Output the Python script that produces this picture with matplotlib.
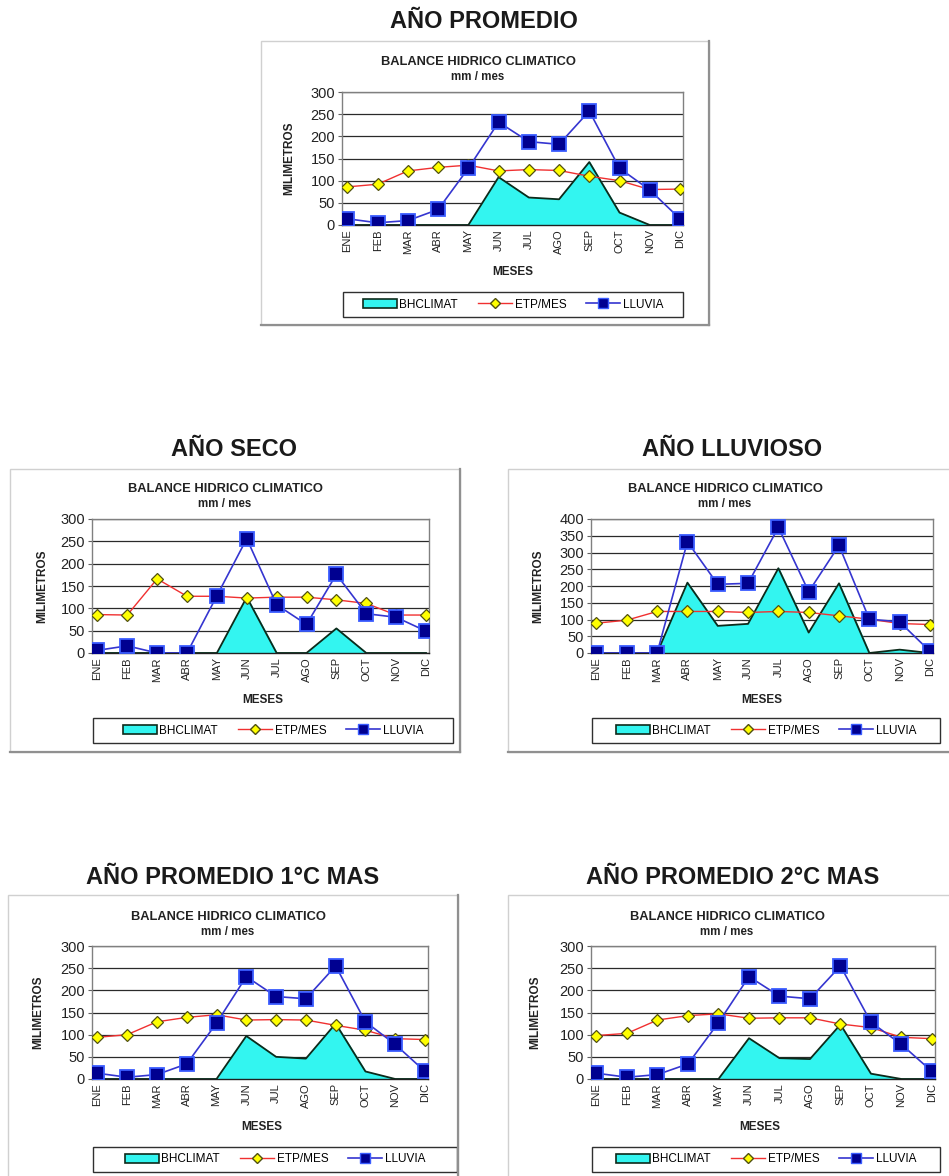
import matplotlib.pyplot as plt
from matplotlib.patches import Rectangle, Patch
from matplotlib.lines import Line2D

plt.rcParams['font.family'] = ['Liberation Sans', 'DejaVu Sans']

# ---- datos (mm / mes) ----
meses = ['ENE', 'FEB', 'MAR', 'ABR', 'MAY', 'JUN', 'JUL', 'AGO', 'SEP', 'OCT', 'NOV', 'DIC']

# año promedio
prom_bh = [0, 0, 0, 0, 0, 108, 62, 58, 142, 28, 0, 0]
prom_etp = [86, 92, 122, 130, 135, 122, 125, 123, 110, 100, 80, 81]
prom_lluvia = [14, 5, 10, 35, 128, 232, 188, 182, 257, 128, 79, 14]

# año seco
seco_bh = [0, 0, 0, 0, 0, 125, 0, 0, 55, 0, 0, 0]
seco_etp = [86, 85, 166, 127, 127, 123, 125, 125, 119, 111, 85, 85]
seco_lluvia = [6, 16, 0, 0, 128, 256, 108, 64, 176, 88, 80, 49]

# año lluvioso
lluv_bh = [0, 0, 0, 210, 81, 87, 253, 61, 208, 0, 10, 0]
lluv_etp = [89, 98, 124, 124, 124, 121, 124, 121, 111, 101, 88, 85]
lluv_lluvia = [0, 0, 0, 332, 205, 208, 375, 183, 321, 101, 93, 5]

# año promedio +1 °C
mas1_bh = [0, 0, 0, 0, 0, 97, 50, 46, 125, 17, 0, 0]
mas1_etp = [94, 100, 129, 139, 145, 133, 134, 133, 121, 110, 91, 89]
mas1_lluvia = [13, 4, 10, 34, 126, 231, 186, 181, 255, 129, 78, 17]

# año promedio +2 °C
mas2_bh = [0, 0, 0, 0, 0, 92, 47, 45, 123, 12, 0, 0]
mas2_etp = [98, 103, 133, 143, 147, 137, 138, 138, 124, 116, 94, 91]
mas2_lluvia = [13, 4, 10, 34, 127, 231, 187, 181, 255, 128, 78, 17]

W, H = 949, 1176
fig = plt.figure(figsize=(W / 100, H / 100), dpi=100)


def fx(x):
    return x / W


def fy(y):
    return 1 - y / H


def marco(x0, y0, x1, y1):
    fig.patches.append(Rectangle((fx(x0), fy(y1)), fx(x1 - x0), fy(y0) - fy(y1),
                                 transform=fig.transFigure, fill=False,
                                 edgecolor='#d0d0d0', linewidth=1.0))
    # sombra derecha / abajo
    fig.add_artist(Line2D([fx(x1), fx(x1)], [fy(y0), fy(y1)], color='#909090', linewidth=1.6))
    fig.add_artist(Line2D([fx(x0), fx(x1)], [fy(y1), fy(y1)], color='#909090', linewidth=1.6))


def grafico(cfg, bh, etp, lluvia, ymax):
    x0, y0, x1, y1 = cfg['plot']
    ax = fig.add_axes([fx(x0), fy(y1), fx(x1 - x0), fy(y0) - fy(y1)])
    x = range(len(meses))
    ax.fill_between(x, 0, bh, color='#33f5f0', zorder=2)
    ax.plot(x, bh, color='#0d2a1a', linewidth=1.3, zorder=3)
    ax.plot(x, etp, color='#f03030', linewidth=1.0, marker='D', markersize=6.5,
            markerfacecolor='#ffff00', markeredgecolor='#505010', markeredgewidth=0.9, zorder=4)
    ax.plot(x, lluvia, color='#3535d0', linewidth=1.2, marker='s', markersize=9.5,
            markerfacecolor='#000090', markeredgecolor='#3a5cff', markeredgewidth=1.3, zorder=5)
    ax.set_xlim(-0.18, 11.1)
    ax.set_ylim(0, ymax)
    ax.set_yticks(range(0, ymax + 1, 50))
    ax.set_xticks(list(x))
    ax.set_xticklabels(meses, rotation=90, fontsize=8, color='#222222')
    ax.tick_params(axis='y', labelsize=10.5, length=3, color='#606060', pad=2, labelcolor='#222222')
    ax.tick_params(axis='x', length=0, pad=3)
    ax.grid(axis='y', color='#2a2a2a', linewidth=0.9, zorder=1)
    for s in ax.spines.values():
        s.set_color('#808080')
        s.set_linewidth(1.0)
    ax.spines['bottom'].set_color('#202020')
    ax.set_axisbelow(True)

    tx = cfg['tx']
    fig.text(fx(tx), fy(cfg['ty'] - 1), 'BALANCE HIDRICO CLIMATICO', ha='center', va='center',
             fontsize=9.3, fontweight='bold', color='#222222')
    fig.text(fx(tx), fy(cfg['ty'] + 14), 'mm / mes', ha='center', va='center',
             fontsize=8.3, fontweight='bold', color='#222222')
    fig.text(fx(cfg['ylx']), fy((y0 + y1) / 2), 'MILIMETROS', rotation=90, ha='center',
             va='center', fontsize=8.5, fontweight='bold', color='#222222')
    fig.text(fx(cfg['mx']), fy(cfg['my']), 'MESES', ha='center', va='center',
             fontsize=8.5, fontweight='bold', color='#222222')

    lx0, ly0, lx1, ly1 = cfg['leg']
    handles = [
        Patch(facecolor='#33f5f0', edgecolor='#0d2a1a', linewidth=1.2, label='BHCLIMAT'),
        Line2D([], [], color='#f03030', linewidth=1.0, marker='D', markersize=5.5,
               markerfacecolor='#ffff00', markeredgecolor='#505010', label='ETP/MES'),
        Line2D([], [], color='#3535d0', linewidth=1.2, marker='s', markersize=6.5,
               markerfacecolor='#000090', markeredgecolor='#3a5cff', label='LLUVIA'),
    ]
    fig.legend(handles=handles, loc='center', ncol=3, fontsize=8.5,
               bbox_to_anchor=(fx(lx0), fy(ly1), fx(lx1 - lx0), fy(ly0) - fy(ly1)),
               bbox_transform=fig.transFigure, frameon=False,
               handlelength=2.9, handleheight=0.8, handletextpad=0.2,
               columnspacing=1.7, borderaxespad=0, borderpad=0.4)
    fig.patches.append(Rectangle((fx(lx0), fy(ly1)), fx(lx1 - lx0), fy(ly0) - fy(ly1),
                                 transform=fig.transFigure, fill=False,
                                 edgecolor='#303030', linewidth=1.0))
    return ax


paneles = [
    (dict(frame=(261, 41, 709, 325), plot=(342, 92, 683, 225), tx=478, ty=63, ylx=289,
          mx=513, my=272, leg=(343, 292, 683, 317), titulo='AÑO PROMEDIO', tlx=484, tly=22),
     prom_bh, prom_etp, prom_lluvia, 300),
    (dict(frame=(10, 469, 460, 752), plot=(92, 519, 429, 653), tx=225, ty=490, ylx=42,
          mx=263, my=700, leg=(93, 718, 453, 743), titulo='AÑO SECO', tlx=234, tly=449),
     seco_bh, seco_etp, seco_lluvia, 300),
    (dict(frame=(508, 469, 960, 752), plot=(591, 519, 933, 653), tx=725, ty=490, ylx=538,
          mx=762, my=700, leg=(592, 718, 940, 743), titulo='AÑO LLUVIOSO', tlx=732, tly=449),
     lluv_bh, lluv_etp, lluv_lluvia, 400),
    (dict(frame=(8, 895, 458, 1190), plot=(92, 946, 428, 1079), tx=228, ty=918, ylx=38,
          mx=262, my=1127, leg=(93, 1147, 457, 1172), titulo='AÑO PROMEDIO 1°C MAS',
          tlx=233, tly=877),
     mas1_bh, mas1_etp, mas1_lluvia, 300),
    (dict(frame=(508, 895, 960, 1190), plot=(591, 946, 935, 1079), tx=727, ty=918, ylx=535,
          mx=760, my=1127, leg=(592, 1147, 940, 1172), titulo='AÑO PROMEDIO 2°C MAS',
          tlx=733, tly=877),
     mas2_bh, mas2_etp, mas2_lluvia, 300),
]

for cfg, bh, etp, lluvia, ymax in paneles:
    marco(*cfg['frame'])
    grafico(cfg, bh, etp, lluvia, ymax)
    fig.text(fx(cfg['tlx']), fy(cfg['tly']), cfg['titulo'], ha='center', va='center',
             fontsize=17, fontweight='bold', color='#1a1a1a')

fig.savefig('out.png', dpi=100)
